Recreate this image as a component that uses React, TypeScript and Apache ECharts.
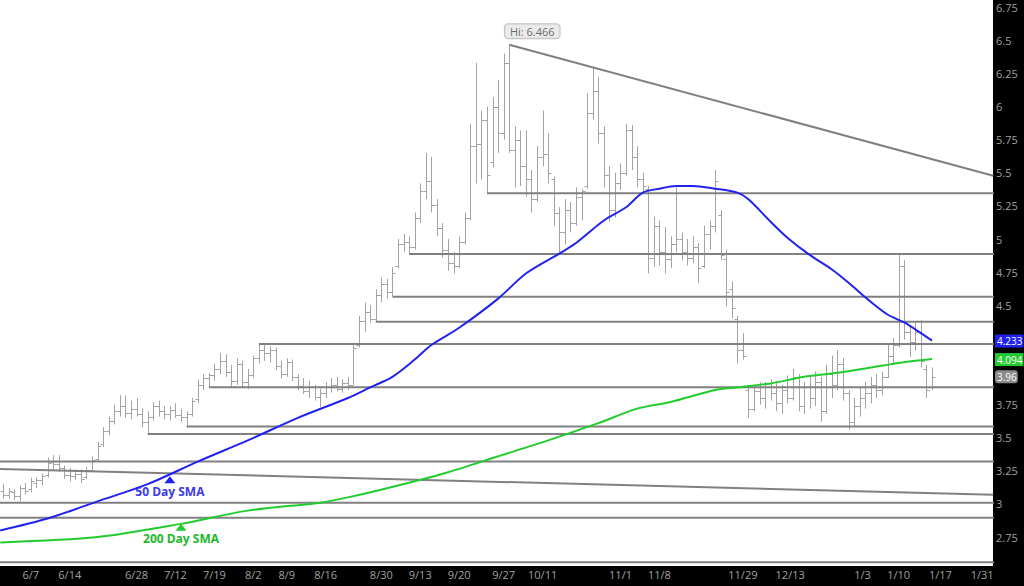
import React, { useEffect, useRef } from 'react';
import * as echarts from 'echarts';

// ---- OHLC bars (one per trading session, left to right) ----
const OPEN = [
  3.10, 3.07, 3.09, 3.06, 3.12, 3.11, 3.16, 3.18, 3.22, 3.32, 3.30, 3.27, 3.22, 3.21, 3.23, 3.20,
  3.26, 3.34, 3.45, 3.55, 3.63, 3.70, 3.74, 3.69, 3.72, 3.68, 3.62, 3.66, 3.74, 3.70, 3.68, 3.71,
  3.67, 3.66, 3.68, 3.79, 3.90, 3.95, 3.97, 4.02, 4.08, 4.00, 3.93, 4.06, 3.92, 3.97, 4.10, 4.16,
  4.14, 4.16, 4.04, 3.98, 4.07, 3.96, 3.89, 3.85, 3.88, 3.81, 3.84, 3.88, 3.90, 3.87, 3.91, 3.90,
  4.20, 4.38, 4.45, 4.40, 4.58, 4.66, 4.60, 4.80, 4.96, 4.98, 4.94, 5.16, 5.36, 5.44, 5.26, 5.08,
  4.92, 4.82, 4.80, 4.98, 5.16, 5.70, 5.72, 5.90, 5.58, 6.00, 5.80, 6.33, 5.67, 5.75, 5.55, 5.45,
  5.30, 5.62, 5.64, 5.45, 5.20, 5.05, 5.22, 5.12, 5.32, 5.40, 5.95, 6.12, 5.80, 5.48, 5.22, 5.42,
  5.50, 5.82, 5.62, 5.45, 5.38, 4.86, 5.10, 4.90, 4.85, 4.96, 5.00, 4.90, 4.86, 4.94, 4.80, 5.04,
  5.10, 5.18, 4.85, 4.62, 4.40, 4.16, 3.86, 3.72, 3.85, 3.80, 3.88, 3.84, 3.76, 3.86, 3.80, 3.96,
  3.74, 3.88, 3.80, 3.92, 3.70, 3.98, 3.90, 4.06, 3.84, 3.62, 3.74, 3.80, 3.84, 3.90, 3.86, 3.96,
  4.12, 4.20, 4.80, 4.30, 4.22, 4.30, 4.02, 3.88,
];
const HIGH = [
  3.15, 3.12, 3.11, 3.14, 3.16, 3.20, 3.20, 3.23, 3.35, 3.37, 3.37, 3.29, 3.27, 3.26, 3.26, 3.28,
  3.36, 3.47, 3.58, 3.66, 3.75, 3.82, 3.82, 3.78, 3.80, 3.72, 3.70, 3.77, 3.78, 3.74, 3.74, 3.76,
  3.72, 3.70, 3.80, 3.94, 3.98, 3.99, 4.06, 4.14, 4.13, 4.05, 4.10, 4.08, 4.02, 4.12, 4.21, 4.20,
  4.19, 4.18, 4.08, 4.10, 4.09, 3.98, 3.95, 3.93, 3.90, 3.87, 3.92, 3.95, 3.96, 3.94, 3.96, 4.21,
  4.42, 4.52, 4.50, 4.62, 4.71, 4.70, 4.79, 5.00, 5.04, 5.02, 5.20, 5.42, 5.65, 5.62, 5.30, 5.12,
  5.00, 4.90, 5.02, 5.20, 5.87, 6.33, 5.97, 6.00, 6.07, 6.20, 6.40, 6.466, 5.85, 5.82, 5.82, 5.52,
  5.70, 5.97, 5.80, 5.47, 5.24, 5.30, 5.28, 5.39, 5.38, 6.10, 6.29, 6.22, 5.85, 5.55, 5.50, 5.57,
  5.87, 5.86, 5.70, 5.50, 5.40, 5.17, 5.14, 5.09, 5.02, 5.39, 5.05, 5.00, 5.02, 4.97, 5.10, 5.14,
  5.52, 5.22, 4.92, 4.68, 4.42, 4.29, 3.90, 3.90, 3.92, 3.92, 3.94, 3.93, 3.90, 3.97, 4.02, 3.98,
  3.92, 3.96, 4.00, 3.96, 4.05, 4.12, 4.16, 4.10, 3.86, 3.80, 3.88, 3.92, 3.96, 3.98, 4.00, 4.20,
  4.25, 4.88, 4.84, 4.34, 4.38, 4.39, 4.05, 4.03,
];
const LOW = [
  3.04, 3.04, 3.03, 3.02, 3.07, 3.09, 3.12, 3.14, 3.20, 3.25, 3.24, 3.19, 3.17, 3.18, 3.16, 3.19,
  3.25, 3.32, 3.43, 3.52, 3.60, 3.66, 3.65, 3.64, 3.66, 3.58, 3.53, 3.63, 3.66, 3.64, 3.63, 3.65,
  3.62, 3.59, 3.66, 3.76, 3.86, 3.88, 3.93, 3.98, 3.96, 3.88, 3.90, 3.88, 3.87, 3.95, 4.06, 4.08,
  4.07, 4.01, 3.95, 3.96, 3.93, 3.86, 3.83, 3.80, 3.78, 3.73, 3.80, 3.84, 3.85, 3.84, 3.86, 3.90,
  4.18, 4.30, 4.37, 4.38, 4.52, 4.55, 4.57, 4.78, 4.90, 4.89, 4.92, 5.12, 5.30, 5.20, 5.02, 4.86,
  4.76, 4.74, 4.78, 4.96, 5.14, 5.42, 5.45, 5.35, 5.54, 5.65, 5.75, 5.65, 5.39, 5.40, 5.32, 5.20,
  5.28, 5.55, 5.42, 5.10, 4.90, 4.96, 5.05, 5.10, 5.14, 5.38, 5.90, 5.72, 5.39, 5.13, 5.16, 5.37,
  5.48, 5.52, 5.39, 5.35, 4.74, 4.79, 4.80, 4.74, 4.78, 4.90, 4.84, 4.80, 4.82, 4.67, 4.78, 4.92,
  5.05, 4.84, 4.49, 4.40, 4.06, 4.09, 3.65, 3.70, 3.75, 3.72, 3.78, 3.70, 3.68, 3.76, 3.78, 3.70,
  3.68, 3.72, 3.74, 3.62, 3.68, 3.80, 3.86, 3.78, 3.56, 3.58, 3.66, 3.72, 3.76, 3.80, 3.82, 3.95,
  4.05, 4.18, 4.24, 4.11, 4.16, 4.03, 3.80, 3.86,
];
const CLOSE = [
  3.07, 3.10, 3.06, 3.12, 3.10, 3.17, 3.18, 3.21, 3.31, 3.30, 3.27, 3.22, 3.21, 3.23, 3.19, 3.26,
  3.33, 3.44, 3.55, 3.63, 3.70, 3.74, 3.69, 3.72, 3.68, 3.62, 3.66, 3.74, 3.70, 3.68, 3.71, 3.67,
  3.66, 3.68, 3.78, 3.90, 3.95, 3.97, 4.02, 4.08, 4.00, 3.93, 4.06, 3.92, 3.97, 4.10, 4.16, 4.14,
  4.16, 4.04, 3.98, 4.07, 3.96, 3.89, 3.85, 3.88, 3.81, 3.84, 3.88, 3.90, 3.87, 3.91, 3.90, 4.18,
  4.38, 4.45, 4.40, 4.58, 4.66, 4.60, 4.74, 4.96, 4.98, 4.94, 5.16, 5.36, 5.44, 5.26, 5.08, 4.92,
  4.82, 4.80, 4.98, 5.16, 5.70, 5.72, 5.90, 5.48, 6.00, 5.80, 6.33, 5.67, 5.75, 5.55, 5.45, 5.30,
  5.62, 5.64, 5.50, 5.20, 5.05, 5.22, 5.12, 5.32, 5.36, 5.95, 6.12, 5.80, 5.48, 5.22, 5.42, 5.50,
  5.82, 5.62, 5.45, 5.40, 4.86, 5.10, 4.90, 4.85, 4.96, 5.00, 4.90, 4.86, 4.94, 4.78, 5.04, 5.10,
  5.44, 4.88, 4.60, 4.48, 4.16, 4.12, 3.72, 3.85, 3.80, 3.88, 3.84, 3.76, 3.86, 3.80, 3.96, 3.74,
  3.88, 3.80, 3.92, 3.70, 3.98, 3.90, 4.06, 3.84, 3.62, 3.74, 3.80, 3.84, 3.90, 3.86, 3.96, 4.12,
  4.20, 4.80, 4.30, 4.22, 4.30, 4.08, 3.86, 3.96,
];

// ---- moving averages, read at selected bar positions ----
const SMA50_X = [-0.5, 8, 17, 26, 35, 44, 53, 62, 66, 70, 74, 77, 82, 89, 94, 100, 103, 108, 112, 115, 118, 121, 124, 128, 132, 134, 138, 141, 145, 149, 152, 155, 159, 162, 165, 167];
const SMA50_Y = [2.80, 2.89, 3.02, 3.15, 3.32, 3.48, 3.65, 3.80, 3.88, 3.96, 4.09, 4.20, 4.33, 4.55, 4.74, 4.89, 4.97, 5.14, 5.24, 5.35, 5.38, 5.40, 5.40, 5.38, 5.35, 5.30, 5.13, 5.01, 4.88, 4.77, 4.67, 4.56, 4.43, 4.37, 4.29, 4.233];
const SMA200_X = [-0.5, 17, 32, 44, 57, 62, 71, 80, 89, 98, 107, 114, 120, 128, 132, 138, 144, 150, 156, 162, 167];
const SMA200_Y = [2.71, 2.75, 2.85, 2.95, 3.01, 3.05, 3.14, 3.24, 3.36, 3.48, 3.61, 3.72, 3.77, 3.86, 3.88, 3.91, 3.96, 3.99, 4.03, 4.07, 4.094];

// ---- support / resistance levels (value, first bar) ----
const LEVELS = [5.345, 4.887, 4.565, 4.376, 4.208, 3.882, 3.585, 3.528, 3.320, 3.010, 2.897, 2.560];
const LEVEL_START = [87, 73, 70, 67, 46, 37, 33, 26, null, null, null, null];

// ---- trend lines ----
const TREND_TOP = [[91, 6.466], [178, 5.478]];
const TREND_LOW = [[-0.54, 3.265], [178, 3.07]];

// ---- annotations ----
const HI_POINT = [91, 6.466];
const SMA50_MARK = [30, 3.21];
const SMA200_MARK = [32, 2.85];
const LAST_SMA50 = 4.233;
const LAST_SMA200 = 4.094;
const LAST_CLOSE = 3.96;

// ---- axis ticks ----
const X_TICK_POS = [5, 12, 24, 31, 38, 45, 51, 58, 68, 75, 82, 90, 97, 111, 118, 133, 141.5, 154.5, 161, 168.5, 176];
const X_TICK_LABELS = ['6/7', '6/14', '6/28', '7/12', '7/19', '8/2', '8/9', '8/16', '8/30', '9/13', '9/20', '9/27', '10/11', '11/1', '11/8', '11/29', '12/13', '1/3', '1/10', '1/17', '1/31'];
const Y_TICKS = [2.75, 3, 3.25, 3.5, 3.75, 4.5, 4.75, 5, 5.25, 5.5, 5.75, 6, 6.25, 6.5, 6.75];

const X_MIN = -0.54;
const X_MAX = 177.96;
const Y_MIN = 2.532;
const Y_MAX = 6.804;

const FONT = 'Open Sans, Noto Sans, sans-serif';
const BAR_COLOR = '#a3a3a3';
const LEVEL_COLOR = '#808080';
const BLUE = '#2222f0';
const GREEN = '#22cc2e';

export default function App() {
  const ref = useRef<HTMLDivElement>(null);

  useEffect(() => {
    if (!ref.current) return;
    const chart = echarts.init(ref.current, undefined, { renderer: 'svg' });

    const ohlc = OPEN.map((o, i) => [i, o, HIGH[i], LOW[i], CLOSE[i]]);

    const renderOhlc = (_params: any, api: any) => {
      const i = api.value(0);
      const o = api.coord([i, api.value(1)]);
      const h = api.coord([i, api.value(2)]);
      const l = api.coord([i, api.value(3)]);
      const c = api.coord([i, api.value(4)]);
      const x = Math.round(h[0]) + 0.5;
      const oy = Math.round(o[1]) + 0.5;
      const cy = Math.round(c[1]) + 0.5;
      const st = { stroke: BAR_COLOR, lineWidth: 1 };
      return {
        type: 'group',
        children: [
          { type: 'line', shape: { x1: x, y1: h[1], x2: x, y2: l[1] }, style: st },
          { type: 'line', shape: { x1: x - 3, y1: oy, x2: x, y2: oy }, style: st },
          { type: 'line', shape: { x1: x, y1: cy, x2: x + 3, y2: cy }, style: st },
        ],
      };
    };

    const levelSeries = LEVELS.map((lv, k) => ({
      type: 'line',
      data: [[LEVEL_START[k] ?? X_MIN, lv], [X_MAX + 1, lv]],
      showSymbol: false,
      silent: true,
      z: 3,
      lineStyle: { color: LEVEL_COLOR, width: 2 },
    }));

    const trendSeries = [TREND_TOP, TREND_LOW].map((t) => ({
      type: 'line',
      data: t,
      showSymbol: false,
      silent: true,
      z: 3,
      lineStyle: { color: LEVEL_COLOR, width: 2 },
    }));

    const tagLabel = (bg: string, radius: number) => ({
      show: true,
      position: 'end',
      distance: 2,
      color: '#ffffff',
      backgroundColor: bg,
      borderRadius: radius,
      padding: [2, 1, 1, 2],
      fontSize: 10,
      fontFamily: FONT,
      opacity: 1,
    });

    chart.setOption({
      animation: false,
      backgroundColor: '#000000',
      grid: {
        left: 0,
        right: 31,
        top: 0,
        bottom: 20,
        show: true,
        backgroundColor: '#ffffff',
        borderWidth: 0,
      },
      xAxis: {
        type: 'value',
        min: X_MIN,
        max: X_MAX,
        axisLine: { show: false },
        axisTick: { show: false },
        splitLine: { show: false },
        axisLabel: {
          customValues: X_TICK_POS,
          formatter: (v: number) => {
            const k = X_TICK_POS.indexOf(v);
            return k >= 0 ? X_TICK_LABELS[k] : '';
          },
          color: '#a0a0a0',
          fontSize: 11,
          fontFamily: FONT,
          margin: 3,
        },
      },
      yAxis: {
        type: 'value',
        position: 'right',
        min: Y_MIN,
        max: Y_MAX,
        axisLine: { show: false },
        axisTick: { show: false },
        splitLine: { show: false },
        axisLabel: {
          customValues: Y_TICKS,
          formatter: (v: number) => String(v),
          color: '#a0a0a0',
          fontSize: 11,
          fontFamily: FONT,
          margin: 3,
        },
      },
      series: [
        {
          type: 'custom',
          renderItem: renderOhlc,
          data: ohlc,
          encode: { x: 0, y: [1, 2, 3, 4] },
          clip: true,
          silent: true,
          z: 2,
        },
        ...levelSeries,
        ...trendSeries,
        {
          type: 'line',
          data: SMA50_X.map((x, i) => [x, SMA50_Y[i]]),
          smooth: 0.3,
          showSymbol: false,
          silent: true,
          z: 5,
          lineStyle: { color: BLUE, width: 2 },
          markPoint: {
            silent: true,
            data: [
              {
                coord: SMA50_MARK,
                symbol: 'triangle',
                symbolSize: [11, 7],
                symbolOffset: [0, '50%'],
                itemStyle: { color: BLUE },
                label: {
                  show: true,
                  position: 'bottom',
                  distance: 2,
                  formatter: '50 Day SMA',
                  color: '#3a3ae6',
                  fontWeight: 'bold',
                  fontSize: 12,
                  fontFamily: FONT,
                },
              },
            ],
          },
        },
        {
          type: 'line',
          data: SMA200_X.map((x, i) => [x, SMA200_Y[i]]),
          smooth: 0.3,
          showSymbol: false,
          silent: true,
          z: 5,
          lineStyle: { color: GREEN, width: 2 },
          markPoint: {
            silent: true,
            data: [
              {
                coord: SMA200_MARK,
                symbol: 'triangle',
                symbolSize: [11, 7],
                symbolOffset: [0, '50%'],
                itemStyle: { color: GREEN },
                label: {
                  show: true,
                  position: 'bottom',
                  distance: 2,
                  formatter: '200 Day SMA',
                  color: '#22b82a',
                  fontWeight: 'bold',
                  fontSize: 12,
                  fontFamily: FONT,
                },
              },
            ],
          },
          markLine: {
            silent: true,
            symbol: ['none', 'none'],
            lineStyle: { color: 'rgba(0,0,0,0)', width: 1, type: 'solid' },
            data: [
              { yAxis: LAST_SMA50, label: { ...tagLabel(BLUE, 0), formatter: String(LAST_SMA50) } },
              { yAxis: LAST_SMA200, label: { ...tagLabel(GREEN, 0), formatter: String(LAST_SMA200) } },
              { yAxis: LAST_CLOSE, label: { ...tagLabel('#8a8a8a', 3), formatter: String(LAST_CLOSE) } },
            ],
          },
        },
        {
          type: 'scatter',
          data: [HI_POINT],
          symbolSize: 1,
          silent: true,
          z: 6,
          itemStyle: { color: 'rgba(0,0,0,0)' },
          label: {
            show: true,
            position: 'top',
            distance: 6,
            offset: [23, 0],
            formatter: 'Hi: ' + HI_POINT[1],
            color: '#444444',
            backgroundColor: '#e6e6e6',
            borderColor: '#b4b4b4',
            borderWidth: 1,
            borderRadius: 3,
            padding: [2, 5, 1, 5],
            fontSize: 11,
            fontFamily: FONT,
          },
        },
      ],
    });

    return () => chart.dispose();
  }, []);

  return (
    <div
      ref={ref}
      style={{ position: 'fixed', left: 0, top: 0, width: 1024, height: 586 }}
    />
  );
}
